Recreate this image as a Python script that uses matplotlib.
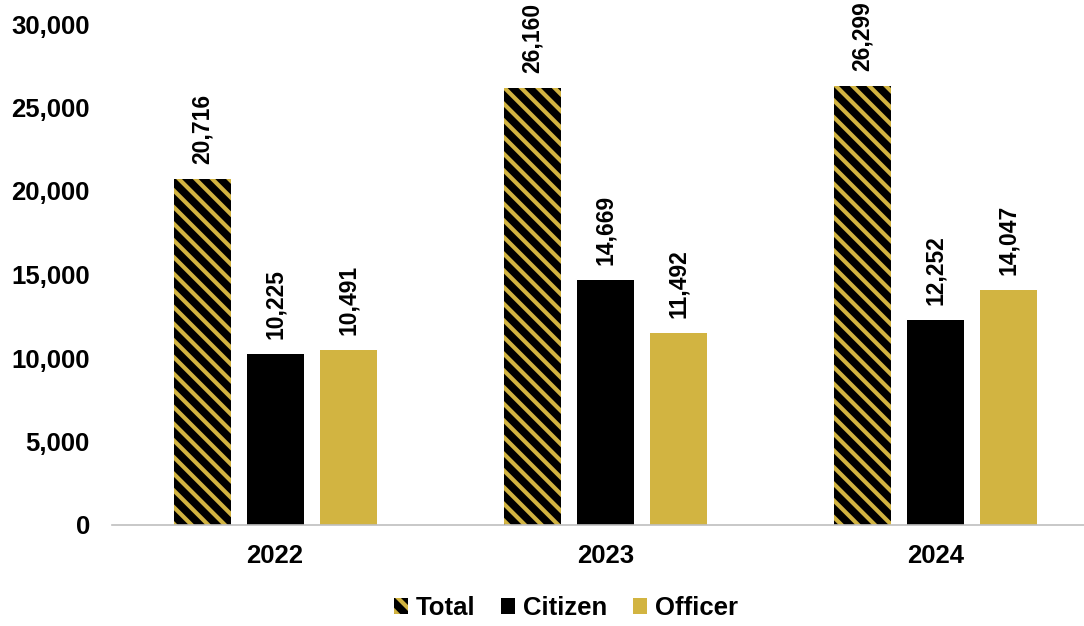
"""Bar chart: Total / Citizen / Officer counts by year."""

import numpy as np
import matplotlib
matplotlib.use("Agg")
from matplotlib import pyplot as plt
from matplotlib.ticker import FuncFormatter

years = ["2022", "2023", "2024"]
total = [20716, 26160, 26299]
citizen = [10225, 14669, 12252]
officer = [10491, 11492, 14047]

GOLD = "#D2B441"

plt.rcParams["font.family"] = ["Liberation Sans", "DejaVu Sans"]
plt.rcParams["font.weight"] = "bold"
plt.rcParams["hatch.color"] = GOLD
plt.rcParams["hatch.linewidth"] = 3.0

fig = plt.figure(figsize=(10.84, 6.26), dpi=100)
ax = fig.add_axes([112 / 1084, 1 - 525 / 626, (1084 - 112) / 1084, (525 - 24) / 626])

x = np.arange(len(years))
width = 0.173
step = 0.221

series = [
    ("Total", total, dict(facecolor="black", hatch="\\\\", edgecolor=GOLD, linewidth=0)),
    ("Citizen", citizen, dict(color="black")),
    ("Officer", officer, dict(color=GOLD)),
]

for i, (name, vals, style) in enumerate(series):
    pos = x + (i - 1) * step
    bars = ax.bar(pos, vals, width, label=name, **style)
    for b, v in zip(bars, vals):
        ax.annotate(
            f"{v:,}",
            (b.get_x() + b.get_width() / 2, v),
            xytext=(0, 15),
            textcoords="offset pixels",
            rotation=90,
            ha="center",
            va="bottom",
            fontsize=16.5,
            fontweight="bold",
        )

ax.set_xlim(-0.494, 2.45)
ax.set_ylim(0, 30000)
ax.set_yticks(range(0, 30001, 5000))
ax.yaxis.set_major_formatter(FuncFormatter(lambda v, _: f"{int(v):,}"))
ax.set_xticks(x)
ax.set_xticklabels(years)
ax.tick_params(axis="both", length=0, labelsize=18.5)
ax.tick_params(axis="y", pad=16)
ax.tick_params(axis="x", pad=14)

for side in ["top", "right", "left"]:
    ax.spines[side].set_visible(False)
ax.spines["bottom"].set_color("#BFBFBF")
ax.spines["bottom"].set_linewidth(1.2)

fig.legend(
    *ax.get_legend_handles_labels(),
    loc="center",
    bbox_to_anchor=(566 / 1084, 1 - 608 / 626),
    ncol=3,
    frameon=False,
    fontsize=18.5,
    handlelength=0.55,
    handleheight=0.55,
    handletextpad=0.3,
    columnspacing=1.0,
)

fig.savefig("out.png", dpi=100)
